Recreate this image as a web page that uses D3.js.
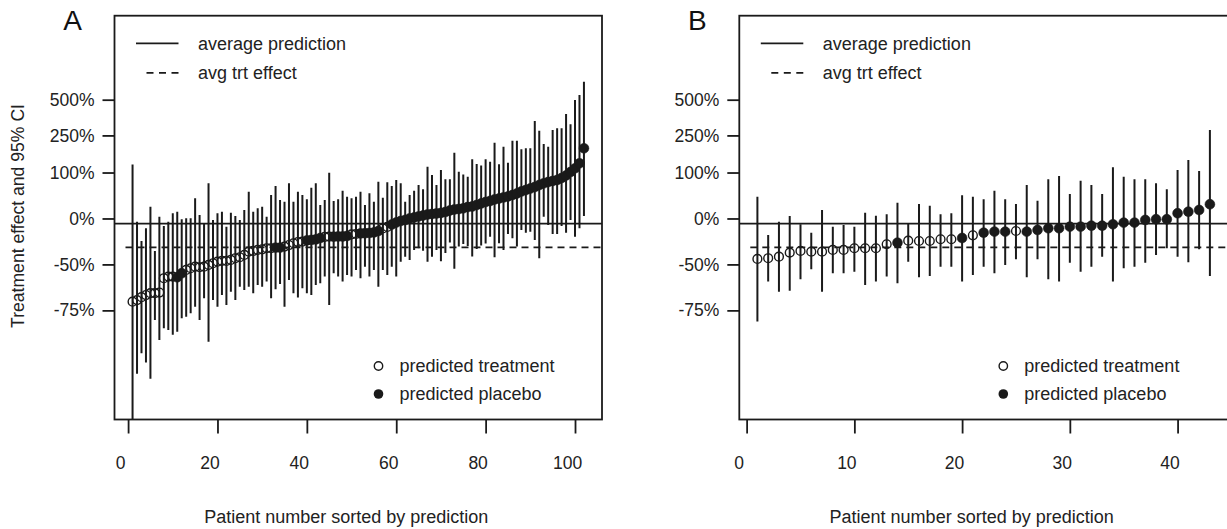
<!DOCTYPE html>
<html>
<head>
<meta charset="utf-8">
<script src="https://cdn.jsdelivr.net/npm/d3@7"></script>
<style>
  body { margin: 0; background: #fff; }
</style>
</head>
<body>
<script>
// Panel A: treatment effect (%) per patient, sorted by prediction
const aEffect = [-71.5,-70.8,-69.5,-68.5,-67.6,-67.6,-67.3,-59.4,-58.4,-58.4,
  -58.8,-56.2,-54.0,-52.8,-51.7,-52.1,-51.7,-50.4,-49.1,-47.9,
  -47.3,-47.3,-46.5,-45.1,-44.3,-42.3,-39.4,-38.7,-37.8,-37.2,
  -36.2,-36.2,-35.6,-35.6,-34.6,-33.0,-31.2,-29.9,-29.5,-28.2,
  -27.7,-27.1,-25.5,-24.3,-24.0,-24.0,-23.8,-23.8,-23.2,-21.4,
  -20.9,-20.2,-20.0,-19.6,-19.0,-17.2,-14.0,-12.0,-8.7,-5.9,
  -3.7,-2.2,0,1.5,3.1,4.6,6.2,7.0,7.8,8.7,
  10.3,12.8,14.5,15.4,16.6,18.9,19.8,22.6,25.4,28.3,
  30.2,33.2,35.2,37.3,39.4,42.5,45.8,50.3,53.7,57.2,
  60.8,65.7,70.0,73.4,76.0,78.7,84.2,91.3,101.7,113.2,
  129.9,188.3];
const aUpper = [125.5,-4.7,-28.8,-13.7,19.5,-38.7,2.7,-10.7,-4.7,8.2,
  10.8,-1.2,0.3,0.3,35.6,5.4,-7.0,70.0,-2.2,8.2,
  10.8,-11.6,9.1,3.8,-2.2,13.7,49.8,10.8,16.6,19.5,
  2.7,42.5,63.3,32.2,28.8,70.0,28.8,49.8,42.5,33.6,
  59.1,70.0,22.6,32.2,99.5,30.2,33.6,52.1,38.9,35.6,
  38.9,49.8,22.6,46.2,28.8,74.2,36.9,72.6,63.3,78.7,
  70.0,28.8,42.5,52.1,65.7,55.3,118.4,92.7,65.7,107.8,
  80.6,80.6,169.8,102.6,94.2,87.9,144.2,127.5,122.4,144.2,
  135.5,213.7,126.5,195.4,132.0,223.3,223.3,184.0,188.3,188.3,
  335.2,276.0,207.6,195.4,280.0,289.8,289.8,383.7,314.1,497.3,
  544.2,687.3];
const aLower = [-97,-90.4,-86.9,-88.6,-91.1,-78.4,-84.0,-80.9,-81.4,-82.7,
  -81.9,-77.8,-77.3,-76.1,-73.6,-78.4,-70.0,-84.4,-70.8,-73.6,
  -68.5,-72.9,-66.9,-70.8,-64.3,-66.0,-64.3,-67.6,-63.3,-64.3,
  -61.4,-70.0,-65.6,-62.8,-73.6,-60.4,-67.6,-69.6,-65.1,-67.6,
  -68.5,-63.3,-62.4,-58.4,-72.9,-56.2,-58.4,-61.4,-57.3,-58.4,
  -54.0,-59.4,-51.7,-58.4,-54.0,-64.3,-54.0,-57.3,-51.7,-58.4,
  -47.9,-43.8,-46.5,-37.8,-36.2,-38.5,-47.9,-43.8,-37.8,-47.6,
  -40.6,-30.4,-53.2,-34.4,-31.9,-34.0,-43.6,-36.9,-33.4,-31.4,
  -24.0,-44.3,-31.2,-37.8,-20.9,-25.8,-34.6,-15.9,-19.3,-18.0,
  -27.7,-45.1,2.7,-9.3,-20.9,-20.9,-10.7,-19.3,-2.2,-24.0,
  -13.7,3.8];
// T = predicted treatment (open), P = predicted placebo (filled)
const aArm = ("TTTTTTTTTT" + "PP" + "TTTTTTTTTTTTTTTTTTTT" + "PP" + "TTTTT" + "PPPP" +
  "TT" + "PPPP" + "TT" + "PPPPP" + "TT" +
  "PPPPPPPPPPPPPPPPPPPPPPPPPPPPPPPPPPPPPPPPPPPP").split("");
const aAvgPrediction = -7.5;
const aAvgTrtEffect = -35.4;

// Panel B
const bEffect = [-45.7,-45.1,-43.8,-40.3,-38.7,-39.4,-39.4,-37.8,-37.8,-36.2,
  -36.2,-36.2,-32.2,-30.6,-28.5,-28.8,-28.8,-26.9,-26.9,-25.5,
  -22.4,-19.3,-18.0,-18.0,-17.2,-18.0,-15.9,-13.7,-13.7,-11.6,
  -11.6,-10.3,-10.3,-8.4,-6.1,-6.1,-2.2,-1.2,-1.2,8.2,
  10.8,13.7,23.9];
const bUpper = [38.9,-22.0,-4.7,3.8,-8.4,-19.3,13.7,-11.6,-9.3,-11.6,
  9.1,4.3,6.5,26.9,-7.0,24.4,21.3,6.5,8.2,41.9,
  38.9,33.6,52.1,33.6,24.4,65.7,30.8,80.6,89.8,44.7,
  76.8,65.7,44.7,116.5,87.9,80.6,80.6,70.0,55.3,107.8,
  141.7,104.7,280.0];
const bLower = [-78.9,-61.4,-66.9,-66.4,-60.0,-53.5,-66.9,-56.2,-56.2,-55.2,
  -63.3,-61.4,-58.4,-62.4,-47.9,-58.8,-58.0,-51.7,-51.7,-61.4,
  -57.3,-51.7,-56.2,-50.4,-46.0,-58.8,-46.0,-60.0,-61.4,-48.7,
  -55.2,-51.7,-43.8,-61.4,-52.8,-51.7,-48.7,-42.3,-36.2,-43.8,
  -48.4,-37.2,-58.0];
const bArm = ("TTTTTTTTTTTTT" + "P" + "TTTTT" + "P" + "T" + "PPP" + "T" +
  "PPPPPPPPPPPPPPPPPP").split("");
const bAvgPrediction = -7.5;
const bAvgTrtEffect = -35.4;

const yTickValues = [-75, -50, 0, 100, 250, 500];

const width = 1227, height = 529;
const ink = "#1a1a1a";
const font = "'Liberation Sans', Arial, Helvetica, sans-serif";

const svg = d3.select("body").append("svg")
    .attr("width", width)
    .attr("height", height)
    .style("font-family", font);

// log scale on the ratio (1 + effect)
const ratio = p => 1 + p / 100;
const y = d3.scaleLog()
    .domain([0.0482, 21.3])
    .range([419.5, 15.7]);

function drawPanel(opt) {
    const { left, right, effect, lower, upper, arm, xTicks, label, id } = opt;
    const top = 15.7, bottom = 419.5;
    const n = effect.length;
    const pad = (n - 1) * 0.04; // R style axis extension
    const x = d3.scaleLinear()
        .domain([1 - pad, n + pad])
        .range([left, right]);

    const g = svg.append("g");

    g.append("clipPath").attr("id", "clip" + id)
      .append("rect")
        .attr("x", left).attr("y", top)
        .attr("width", right - left).attr("height", bottom - top);

    const plot = g.append("g").attr("clip-path", `url(#clip${id})`);

    // average prediction and average treatment effect
    plot.append("line")
        .attr("x1", left).attr("x2", right)
        .attr("y1", y(ratio(opt.avgPrediction))).attr("y2", y(ratio(opt.avgPrediction)))
        .attr("stroke", ink).attr("stroke-width", 1.7);
    plot.append("line")
        .attr("x1", left + 11).attr("x2", right)
        .attr("y1", y(ratio(opt.avgTrtEffect))).attr("y2", y(ratio(opt.avgTrtEffect)))
        .attr("stroke", ink).attr("stroke-width", 1.7)
        .attr("stroke-dasharray", "7,5");

    const rows = effect.map((e, i) => ({ i: i + 1, e, lo: lower[i], hi: upper[i], arm: arm[i] }));

    // 95% CI bars
    plot.append("g")
        .selectAll("line")
        .data(rows)
        .join("line")
        .attr("x1", d => x(d.i)).attr("x2", d => x(d.i))
        .attr("y1", d => y(ratio(d.lo))).attr("y2", d => y(ratio(d.hi)))
        .attr("stroke", ink).attr("stroke-width", 2);

    // predictions
    plot.append("g")
        .selectAll("circle")
        .data(rows)
        .join("circle")
        .attr("cx", d => x(d.i))
        .attr("cy", d => y(ratio(d.e)))
        .attr("r", d => d.arm === "P" ? 4.9 : 4.4)
        .attr("fill", d => d.arm === "P" ? ink : "none")
        .attr("stroke", ink)
        .attr("stroke-width", d => d.arm === "P" ? 0.6 : 1.4);

    // box
    g.append("rect")
        .attr("x", left).attr("y", top)
        .attr("width", right - left).attr("height", bottom - top)
        .attr("fill", "none").attr("stroke", ink).attr("stroke-width", 1.8);

    // y axis
    const yAxis = g.append("g")
        .attr("transform", `translate(${left},0)`)
        .call(d3.axisLeft(y)
            .tickValues(yTickValues.map(ratio))
            .tickFormat((d, i) => yTickValues[i] + "%")
            .tickSize(12)
            .tickPadding(8));
    yAxis.select(".domain").remove();
    yAxis.selectAll("line").attr("stroke", ink).attr("stroke-width", 1.8);
    yAxis.selectAll("text").attr("fill", "#222").attr("font-size", 17.5).attr("font-family", font);

    // x axis
    const xAxis = g.append("g")
        .attr("transform", `translate(0,${bottom})`)
        .call(d3.axisBottom(x)
            .tickValues(xTicks)
            .tickSize(14)
            .tickPadding(23));
    xAxis.select(".domain").remove();
    xAxis.selectAll("line").attr("stroke", ink).attr("stroke-width", 1.8);
    xAxis.selectAll("text").attr("fill", "#222").attr("font-size", 17.5)
        .attr("font-family", font).attr("dx", -8);

    g.append("text")
        .attr("x", (left + right) / 2 - 12).attr("y", 517)
        .attr("text-anchor", "middle").attr("dy", "0.36em")
        .attr("font-size", 18).attr("fill", "#222")
        .text("Patient number sorted by prediction");

    // panel letter
    g.append("text")
        .attr("x", left - 42).attr("y", 30)
        .attr("text-anchor", "middle")
        .attr("font-size", 28).attr("fill", "#111")
        .text(label);

    // legend: lines
    g.append("line")
        .attr("x1", left + 21.5).attr("x2", left + 64)
        .attr("y1", 43.3).attr("y2", 43.3)
        .attr("stroke", ink).attr("stroke-width", 1.7);
    g.append("line")
        .attr("x1", left + 32).attr("x2", left + 64)
        .attr("y1", 72.9).attr("y2", 72.9)
        .attr("stroke", ink).attr("stroke-width", 1.7)
        .attr("stroke-dasharray", "7,5.5");
    g.append("text").attr("x", left + 83.5).attr("y", 43.3).attr("dy", "0.36em")
        .attr("font-size", 18).attr("fill", "#222").text("average prediction");
    g.append("text").attr("x", left + 83.5).attr("y", 72.9).attr("dy", "0.36em")
        .attr("font-size", 18).attr("fill", "#222").text("avg trt effect");

    // legend: points
    g.append("circle").attr("cx", left + 264).attr("cy", 366).attr("r", 4.2)
        .attr("fill", "none").attr("stroke", ink).attr("stroke-width", 1.4);
    g.append("circle").attr("cx", left + 264).attr("cy", 394).attr("r", 4.8)
        .attr("fill", ink);
    g.append("text").attr("x", left + 285).attr("y", 366).attr("dy", "0.36em")
        .attr("font-size", 18).attr("fill", "#222").text("predicted treatment");
    g.append("text").attr("x", left + 285).attr("y", 394).attr("dy", "0.36em")
        .attr("font-size", 18).attr("fill", "#222").text("predicted placebo");
}

drawPanel({
    id: "A", label: "A", left: 114.5, right: 602,
    effect: aEffect, lower: aLower, upper: aUpper, arm: aArm,
    avgPrediction: aAvgPrediction, avgTrtEffect: aAvgTrtEffect,
    xTicks: [0, 20, 40, 60, 80, 100]
});

drawPanel({
    id: "B", label: "B", left: 739.3, right: 1228,
    effect: bEffect, lower: bLower, upper: bUpper, arm: bArm,
    avgPrediction: bAvgPrediction, avgTrtEffect: bAvgTrtEffect,
    xTicks: [0, 10, 20, 30, 40]
});

// y axis title (panel A only)
svg.append("text")
    .attr("transform", "translate(18,216) rotate(-90)")
    .attr("text-anchor", "middle")
    .attr("dy", "0.36em")
    .attr("font-size", 17.6)
    .attr("fill", "#222")
    .text("Treatment effect and 95% CI");
</script>
</body>
</html>
